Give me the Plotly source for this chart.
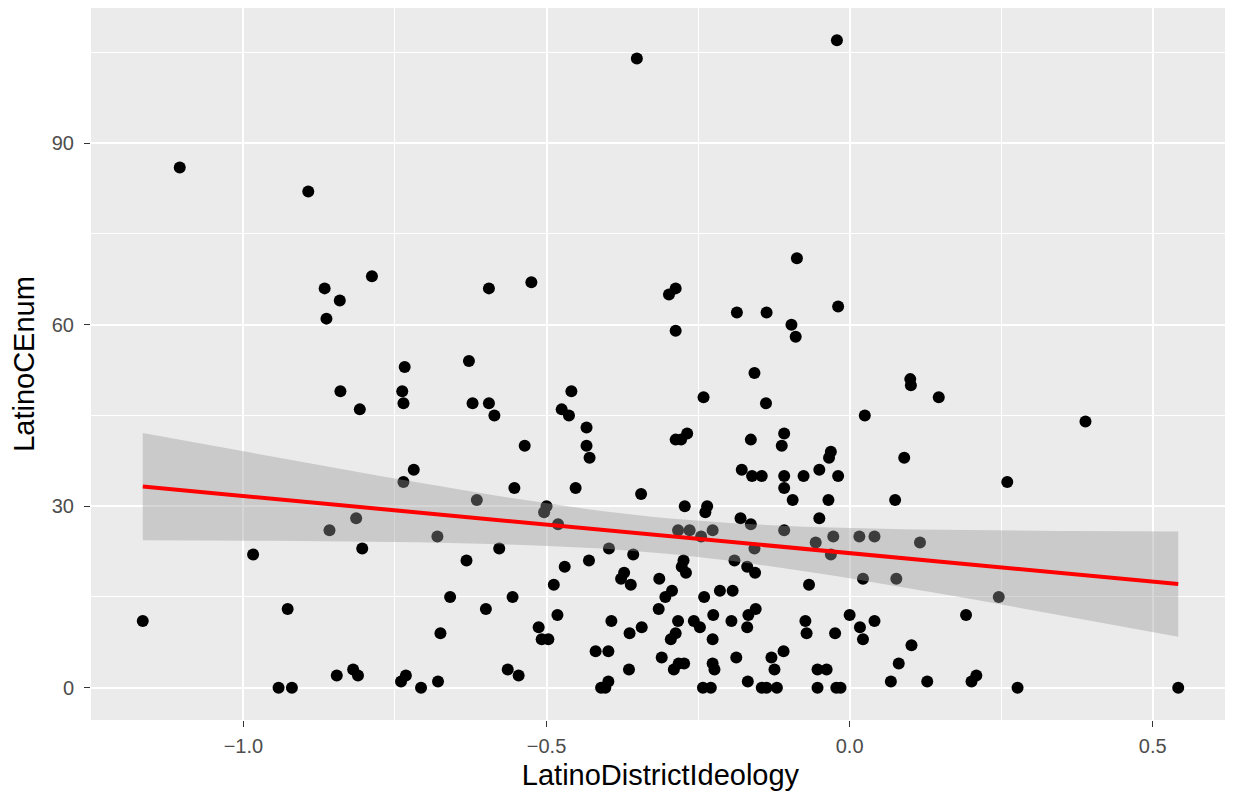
import numpy as np
import plotly.graph_objects as go

# LatinoDistrictIdeology values
ideology = [
    -0.351, -0.021, -1.105, -0.893, -0.866, -0.788, -0.841, -0.863, -0.595, -0.525,
    -0.734, -0.840, -0.808, -0.738, -0.736, -0.628, -0.622, -0.595, -0.586, -0.536,
    -0.719, -0.736, -0.553, -0.475, -0.287, -0.298, -0.186, -0.137, -0.096, -0.287,
    -0.157, -0.459, -0.241, -0.138, -0.463, -0.434, -0.434, -0.429, -0.287, -0.278,
    -0.268, -0.163, -0.108, -0.112, -0.178, -0.161, -0.145, -0.108, -0.108, -0.452,
    -0.087, -0.019, -0.089, 0.100, 0.101, 0.147, 0.025, -0.031, -0.034, 0.090,
    -0.050, -0.076, -0.019, 0.260, 0.389, -0.858, -0.984, -0.927, -1.166, -0.942,
    -0.920, -0.615, -0.500, -0.504, -0.481, -0.814, -0.680, -0.804, -0.578, -0.632,
    -0.488, -0.659, -0.556, -0.600, -0.482, -0.513, -0.508, -0.497, -0.675, -0.846,
    -0.819, -0.811, -0.564, -0.546, -0.740, -0.732, -0.707, -0.679, -0.344, -0.272,
    -0.235, -0.238, -0.180, -0.163, -0.283, -0.264, -0.245, -0.226, -0.397, -0.357,
    -0.157, -0.108, -0.094, -0.470, -0.430, -0.372, -0.377, -0.361, -0.274, -0.277,
    -0.270, -0.314, -0.190, -0.169, -0.156, -0.293, -0.304, -0.214, -0.193, -0.240,
    -0.315, -0.393, -0.343, -0.363, -0.283, -0.257, -0.247, -0.225, -0.195, -0.167,
    -0.155, -0.169, -0.287, -0.295, -0.226, -0.419, -0.398, -0.310, -0.282, -0.273,
    -0.290, -0.226, -0.223, -0.187, -0.129, -0.124, -0.109, -0.364, -0.410, -0.403,
    -0.398, -0.242, -0.229, -0.168, -0.145, -0.137, -0.120, -0.035, 0.075, -0.050,
    -0.056, -0.027, 0.016, 0.041, 0.116, -0.031, 0.022, 0.077, -0.067, 0.246,
    0.000, -0.073, 0.041, 0.192, -0.071, -0.024, 0.017, 0.022, 0.102, 0.081,
    -0.053, -0.038, -0.053, -0.022, -0.015, 0.068, 0.128, 0.201, 0.209, 0.277,
    0.542,
]

# LatinoCEnum values
cenum = [
    104, 107, 86, 82, 66, 68, 64, 61, 66, 67,
    53, 49, 46, 49, 47, 54, 47, 47, 45, 40,
    36, 34, 33, 46, 66, 65, 62, 62, 60, 59,
    52, 49, 48, 47, 45, 43, 40, 38, 41, 41,
    42, 41, 42, 40, 36, 35, 35, 35, 33, 33,
    71, 63, 58, 51, 50, 48, 45, 39, 38, 38,
    36, 35, 35, 34, 44, 26, 22, 13, 11, 0,
    0, 31, 30, 29, 27, 28, 25, 23, 23, 21,
    17, 15, 15, 13, 12, 10, 8, 8, 9, 2,
    3, 2, 3, 2, 1, 2, 0, 1, 32, 30,
    30, 29, 28, 27, 26, 26, 25, 26, 23, 22,
    23, 26, 31, 20, 21, 19, 18, 17, 21, 20,
    19, 18, 21, 20, 19, 16, 15, 16, 16, 15,
    13, 11, 10, 9, 11, 11, 10, 12, 11, 12,
    13, 10, 9, 8, 8, 6, 6, 5, 4, 4,
    3, 4, 3, 5, 5, 3, 6, 3, 0, 0,
    1, 0, 0, 1, 0, 0, 0, 31, 31, 28,
    24, 25, 25, 25, 24, 22, 18, 18, 17, 15,
    12, 11, 11, 12, 9, 9, 10, 8, 7, 4,
    3, 3, 0, 0, 0, 1, 1, 1, 2, 0,
    0,
]

x_ticks = [-1.0, -0.5, 0.0, 0.5]
x_ticklabels = ["\u22121.0", "\u22120.5", "0.0", "0.5"]
y_ticks = [0, 30, 60, 90]
y_ticklabels = ["0", "30", "60", "90"]

x = np.array(ideology, dtype=float)
y = np.array(cenum, dtype=float)
n = len(x)

# linear model fit with 95% confidence band (as geom_smooth(method = "lm"))
b1, b0 = np.polyfit(x, y, 1)
xs = np.linspace(x.min(), x.max(), 80)
pred = b0 + b1 * xs
resid = y - (b0 + b1 * x)
s = np.sqrt(np.sum(resid ** 2) / (n - 2))
sxx = np.sum((x - x.mean()) ** 2)
se = s * np.sqrt(1.0 / n + (xs - x.mean()) ** 2 / sxx)
tval = 1.972
upper = pred + tval * se
lower = pred - tval * se

# ggplot-style expanded ranges
xr = x.max() - x.min()
yr = y.max() - y.min()
x_range = [x.min() - 0.05 * xr, x.max() + 0.05 * xr]
y_range = [y.min() - 0.05 * yr, y.max() + 0.05 * yr]

FONT = "Liberation Sans, Arial, sans-serif"

fig = go.Figure()
fig.add_trace(go.Scatter(
    x=x, y=y, mode="markers",
    marker=dict(color="black", size=12, line=dict(width=0)),
    showlegend=False, hoverinfo="x+y",
))
fig.add_trace(go.Scatter(
    x=np.concatenate([xs, xs[::-1]]),
    y=np.concatenate([upper, lower[::-1]]),
    fill="toself", fillcolor="rgba(153,153,153,0.4)",
    line=dict(width=0), mode="lines", showlegend=False, hoverinfo="skip",
))
fig.add_trace(go.Scatter(
    x=xs, y=pred, mode="lines",
    line=dict(color="#FF0000", width=4), showlegend=False,
))

axis_common = dict(
    showline=False, zeroline=False,
    gridcolor="white", gridwidth=1.8,
    ticks="outside", ticklen=6, tickwidth=1.3, tickcolor="#333333",
    tickfont=dict(family=FONT, size=20, color="#4D4D4D"),
)

fig.update_xaxes(
    range=x_range, tickvals=x_ticks, ticktext=x_ticklabels,
    minor=dict(tickvals=[-1.25, -0.75, -0.25, 0.25], showgrid=True, gridcolor="white", gridwidth=0.9, ticks=""),
    title=dict(text="LatinoDistrictIdeology", font=dict(family=FONT, size=29, color="black"), standoff=8),
    ticklabelstandoff=2,
    **axis_common,
)
fig.update_yaxes(
    range=y_range, tickvals=y_ticks, ticktext=y_ticklabels,
    minor=dict(tickvals=[15, 45, 75, 105], showgrid=True, gridcolor="white", gridwidth=0.9, ticks=""),
    title=dict(text="LatinoCEnum", font=dict(family=FONT, size=29, color="black"), standoff=11),
    ticklabelstandoff=6,
    **axis_common,
)

# page body has an 8px default margin; size the figure to fit the window
fig.update_layout(
    width=1225, height=788,
    plot_bgcolor="#EBEBEB", paper_bgcolor="white",
    margin=dict(l=83, r=3, t=0, b=76),
    showlegend=False,
)

fig.write_html("out.html")
